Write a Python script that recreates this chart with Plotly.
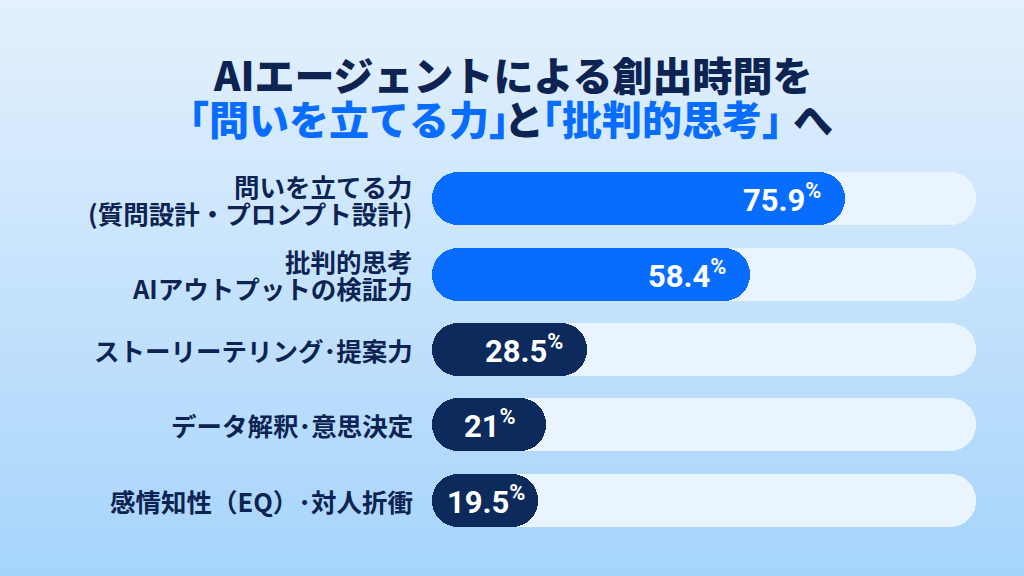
import plotly.graph_objects as go

# ---------------- data ----------------
categories = [
    "問いを立てる力\n(質問設計・プロンプト設計)",
    "批判的思考\nAIアウトプットの検証力",
    "ストーリーテリング･提案力",
    "データ解釈･意思決定",
    "感情知性（EQ）･対人折衝",
]
values = [75.9, 58.4, 28.5, 21, 19.5]
value_labels = ["75.9", "58.4", "28.5", "21", "19.5"]
highlight = [True, True, False, False, False]
track_max = 100

title_line1 = "AIエージェントによる創出時間を"
# (segment text, colour key, centre x in px)
title_line2_parts = [
    ("「問いを立てる力」", "blue", 349),
    ("と", "navy", 524),
    ("「批判的思考」", "blue", 662),
    ("へ", "navy", 813),
]

# ---------------- style ----------------
W, H = 1024, 576
ML, MR, MT, MB = 432, 48, 161, 38
PW, PH = W - ML - MR, H - MT - MB
NAVY = "#0c2a5c"
TEXT_NAVY = "#0d2453"
BLUE = "#086cff"
TRACK = "#e9f4fe"
CJK = "Noto Sans CJK JP"
BAR_W = 0.702


def px_to_paper_x(px):
    return (px - ML) / PW


def px_to_paper_y(py):
    return (H - MB - py) / PH


fig = go.Figure()
ys = list(range(len(categories)))


def add_pill(lengths, colors):
    """Draw pill-shaped bars as two overlapping halves, each rounded at its far end."""
    lengths = list(lengths)
    # right part: from 20% to 100% of the length (rounded on the right)
    fig.add_trace(go.Bar(
        x=[v * 0.8 for v in lengths], base=[v * 0.2 for v in lengths], y=ys,
        orientation="h", width=BAR_W, showlegend=False,
        marker=dict(color=colors, cornerradius="50%", line=dict(width=0)),
        hoverinfo="skip",
    ))
    # left part: from 80% back to 0 (rounded on the left)
    fig.add_trace(go.Bar(
        x=[-v * 0.8 for v in lengths], base=[v * 0.8 for v in lengths], y=ys,
        orientation="h", width=BAR_W, showlegend=False,
        marker=dict(color=colors, cornerradius="50%", line=dict(width=0)),
        hoverinfo="skip",
    ))


add_pill([track_max] * len(categories), [TRACK] * len(categories))
add_pill(values, [BLUE if h else NAVY for h in highlight])

annotations = []
# category labels
for i, cat in enumerate(categories):
    lines = cat.split("\n")
    n = len(lines)
    for j, line in enumerate(lines):
        shift = (j - (n - 1) / 2) * -27
        annotations.append(dict(
            x=0, y=i, xref="x", yref="y", text=line, showarrow=False,
            xanchor="right", yanchor="middle", xshift=-17, yshift=shift,
            font=dict(family=CJK, size=25.5, color=TEXT_NAVY, weight="bold"),
        ))

# value labels
px_per_unit = PW / track_max
for i, (v, lab) in enumerate(zip(values, value_labels)):
    length_px = v * px_per_unit
    if length_px > 140:
        x, anchor, xs = v, "right", -22
    else:
        x, anchor, xs = v / 2, "center", 1
    annotations.append(dict(
        x=x, y=i, xref="x", yref="y", text=f"{lab}<sup>%</sup>", showarrow=False,
        xanchor=anchor, yanchor="middle", xshift=xs, yshift=0,
        font=dict(family="Roboto", size=31, color="white", weight="bold"),
    ))

# titles
annotations.append(dict(
    x=px_to_paper_x(512), y=px_to_paper_y(74), xref="paper", yref="paper",
    xanchor="center", yanchor="middle", showarrow=False,
    text=title_line1,
    font=dict(family=CJK, size=40, color=TEXT_NAVY, weight=900),
))
for text, ckey, cx in title_line2_parts:
    annotations.append(dict(
        x=px_to_paper_x(cx), y=px_to_paper_y(118), xref="paper", yref="paper",
        xanchor="center", yanchor="middle", showarrow=False,
        text=text,
        font=dict(family=CJK, size=40, color=BLUE if ckey == "blue" else TEXT_NAVY,
                  weight=900),
    ))

# background gradient (horizontal bands of colour)
top = (228, 241, 253)
bottom = (166, 212, 251)
shapes = []
step = 4
for k in range(0, H, step):
    t = (k + step / 2) / H
    c = tuple(round(top[m] + (bottom[m] - top[m]) * t) for m in range(3))
    shapes.append(dict(
        type="rect", xref="paper", yref="paper", layer="below",
        x0=px_to_paper_x(-2), x1=px_to_paper_x(W + 2),
        y0=px_to_paper_y(k + step + 0.5), y1=px_to_paper_y(k - 0.5),
        fillcolor="rgb(%d,%d,%d)" % c, line=dict(width=0),
    ))

fig.update_layout(
    width=W, height=H,
    margin=dict(l=ML, r=MR, t=MT, b=MB, pad=0),
    paper_bgcolor="rgb(200,228,252)",
    plot_bgcolor="rgba(0,0,0,0)",
    barmode="overlay",
    bargap=0,
    xaxis=dict(range=[0, track_max], visible=False, fixedrange=True),
    yaxis=dict(range=[len(categories) - 0.5, -0.5], visible=False, fixedrange=True),
    annotations=annotations,
    shapes=shapes,
    showlegend=False,
)

fig.write_html("out.html", config={"displayModeBar": False})
